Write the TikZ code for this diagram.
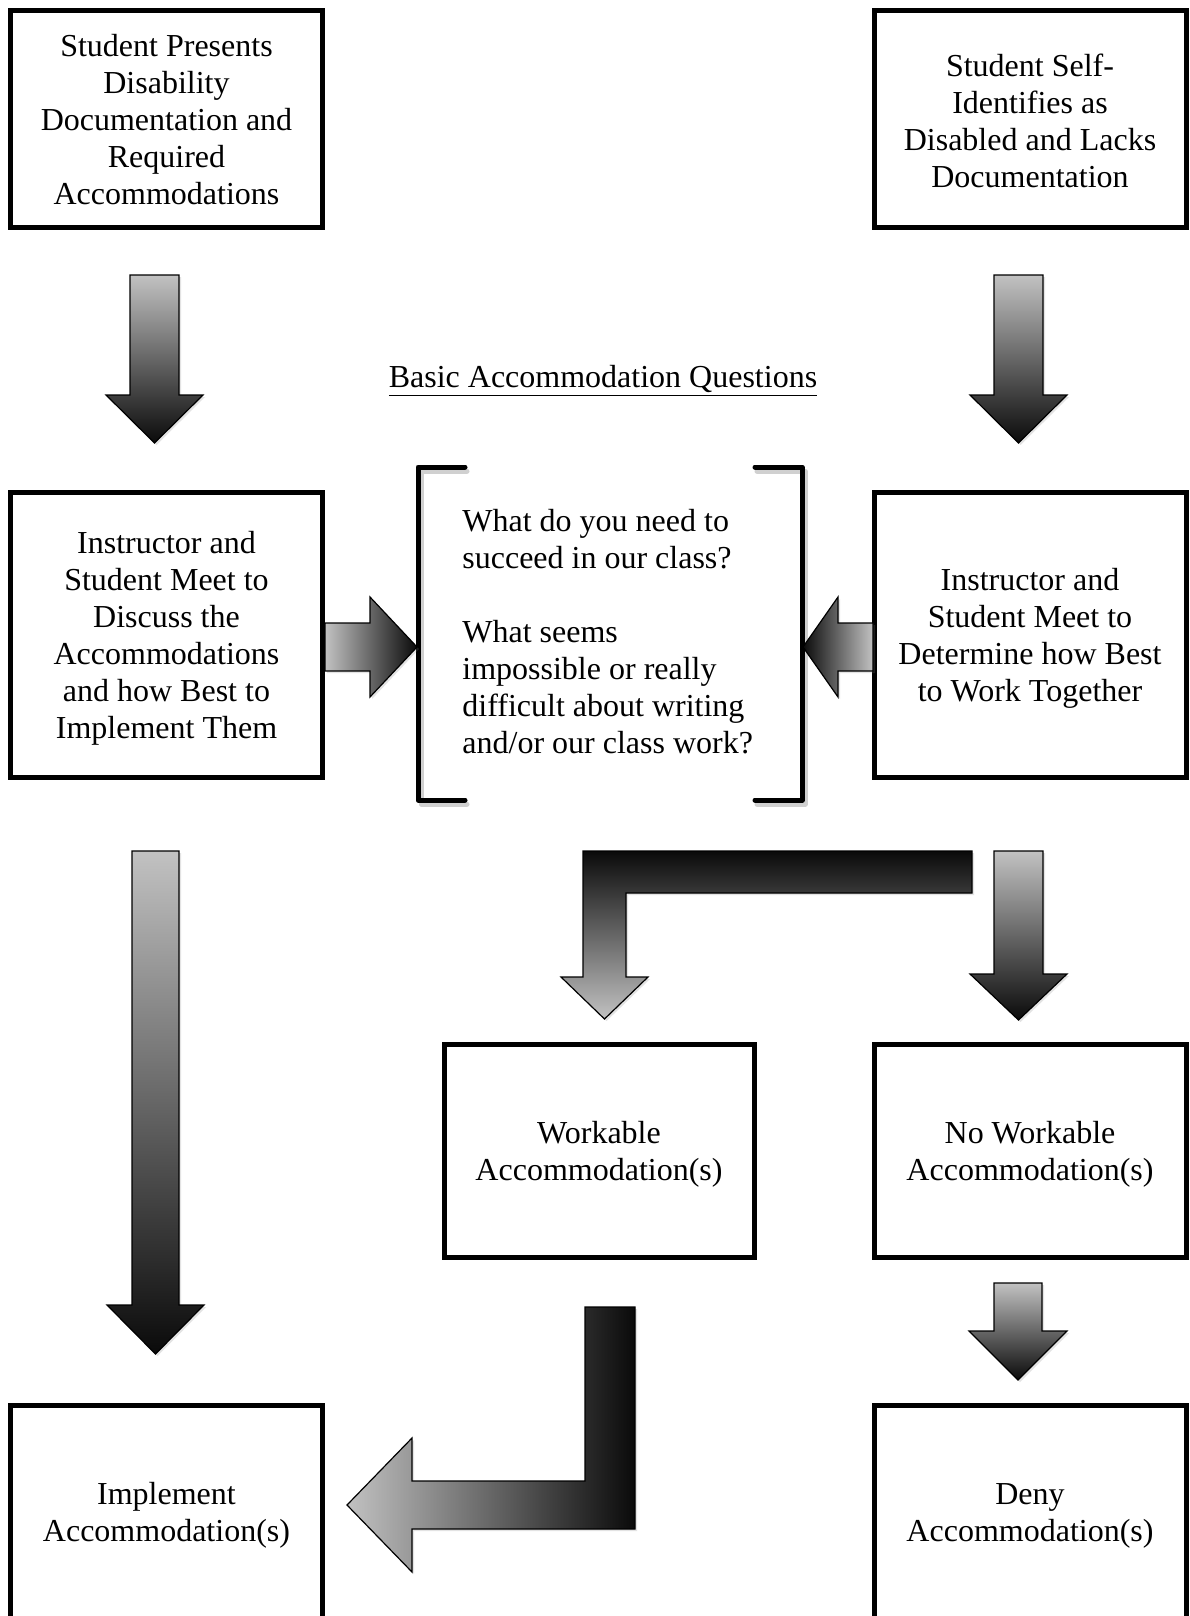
\documentclass[tikz,border=0pt]{standalone}
\usepackage{fontspec}
\setmainfont{Liberation Serif}
\usetikzlibrary{shadows}
\definecolor{arrowlight}{gray}{0.76}
\definecolor{arrowdark}{gray}{0.04}
\tikzset{
  txt/.style={font=\fontsize{16}{18.5}\selectfont},
  box/.style={draw=black, line width=2.5pt, fill=white, inner sep=0pt, line join=miter},
  boxtext/.style={txt, align=center, inner sep=0pt},
  blockarrow/.style={draw=black, line width=0.6pt, line join=miter,
     drop shadow={opacity=0.22, shadow xshift=1pt, shadow yshift=-1pt}},
  gdown/.style={top color=arrowlight, bottom color=arrowdark},
  gup/.style={top color=arrowdark, bottom color=arrowlight},
  gright/.style={left color=arrowlight, right color=arrowdark},
  gleft/.style={left color=arrowdark, right color=arrowlight},
  bracketline/.style={line width=2.5pt, line cap=round, line join=round},
}
\begin{document}
\begin{tikzpicture}[x=0.5pt,y=-0.5pt]
\useasboundingbox (0,0) rectangle (1189,1616);
\fill[white] (0,0) rectangle (1189,1616);
\clip (0,0) rectangle (1189,1616);

% boxes
\node[box, minimum width=156pt, minimum height=108.5pt] (b1) at (166.5,119) {};
\node[boxtext] (t1) at ([yshift=-0.5pt]b1.center)
  {Student Presents\\Disability\\Documentation and\\Required\\Accommodations};
\node[box, minimum width=156pt, minimum height=108.5pt] (b2) at (1030,119) {};
\node[boxtext] (t2) at ([yshift=-0.8pt]b2.center)
  {Student Self-\\Identifies as\\Disabled and Lacks\\Documentation};
\node[box, minimum width=156pt, minimum height=142.5pt] (b3) at (166.5,635) {};
\node[boxtext] (t3) at ([yshift=-1.6pt]b3.center)
  {Instructor and\\Student Meet to\\Discuss the\\Accommodations\\and how Best to\\Implement Them};
\node[box, minimum width=156pt, minimum height=142.5pt] (b4) at (1030,635) {};
\node[boxtext] (t4) at ([yshift=-1.6pt]b4.center)
  {Instructor and\\Student Meet to\\Determine how Best\\to Work Together};
\node[box, minimum width=155pt, minimum height=106.5pt] (b5) at (599,1151) {};
\node[boxtext] (t5) at ([yshift=-1.6pt]b5.center) {Workable\\Accommodation(s)};
\node[box, minimum width=156pt, minimum height=106.5pt] (b6) at (1030,1151) {};
\node[boxtext] (t6) at ([yshift=-1.6pt]b6.center) {No Workable\\Accommodation(s)};
\node[box, minimum width=156pt, minimum height=106.5pt] (b7) at (166.5,1512) {};
\node[boxtext] (t7) at ([yshift=-1.8pt]b7.center) {Implement\\Accommodation(s)};
\node[box, minimum width=156pt, minimum height=106.5pt] (b8) at (1030,1512) {};
\node[boxtext] (t8) at ([yshift=-1.8pt]b8.center) {Deny\\Accommodation(s)};

% title
\node[txt, inner sep=0pt] (title) at (603,381) {\underline{Basic Accommodation Questions}};

% bracket
\draw[bracketline, black!30, opacity=0.6] (467,471) -- (421,471) -- (421,804) -- (467,804);
\draw[bracketline, black!30, opacity=0.6] (757,471) -- (805,471) -- (805,804) -- (757,804);
\draw[bracketline] (465,467) -- (418,467) -- (418,800) -- (465,800);
\draw[bracketline] (755,467) -- (802,467) -- (802,800) -- (755,800);
\node[txt, anchor=west, align=left, inner sep=0pt] (q) at (462,632)
  {What do you need to\\succeed in our class?\\[18.5pt]What seems\\impossible or really\\difficult about writing\\and/or our class work?};

% block arrows
\path[blockarrow, gdown] (130,275) -- (179,275) -- (179,395) -- (203,395) -- (154.5,443) -- (106,395) -- (130,395) -- cycle;
\path[blockarrow, gdown] (994,275) -- (1043,275) -- (1043,395) -- (1067,395) -- (1018.5,443) -- (970,395) -- (994,395) -- cycle;
\path[blockarrow, gright] (325,623) -- (370,623) -- (370,597) -- (417,647) -- (370,697) -- (370,671) -- (325,671) -- cycle;
\path[blockarrow, gleft] (873,623) -- (838,623) -- (838,597) -- (803,647) -- (838,697) -- (838,671) -- (873,671) -- cycle;
\path[blockarrow, gdown] (132,851) -- (179,851) -- (179,1305) -- (204,1305) -- (155.5,1354) -- (107,1305) -- (132,1305) -- cycle;
\path[blockarrow, gup] (972,851) -- (583,851) -- (583,977) -- (561,977) -- (604.5,1019) -- (648,977) -- (626,977) -- (626,893) -- (972,893) -- cycle;
\path[blockarrow, gdown] (994,851) -- (1043,851) -- (1043,974) -- (1067,974) -- (1018.5,1020) -- (970,974) -- (994,974) -- cycle;
\path[blockarrow, gdown] (994,1283) -- (1042,1283) -- (1042,1331) -- (1067,1331) -- (1018,1380) -- (969,1331) -- (994,1331) -- cycle;
\path[blockarrow, gright] (585,1307) -- (635,1307) -- (635,1529) -- (412,1529) -- (412,1572) -- (347,1505) -- (412,1438) -- (412,1481) -- (585,1481) -- cycle;
\end{tikzpicture}
\end{document}
